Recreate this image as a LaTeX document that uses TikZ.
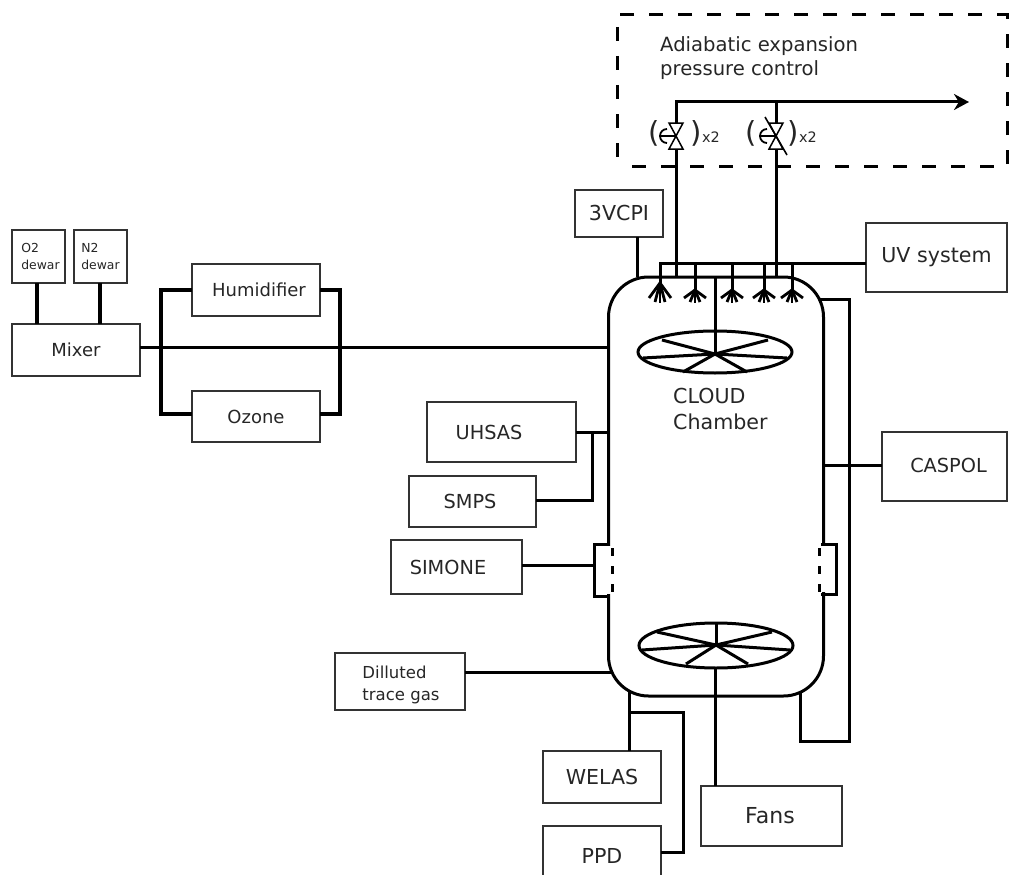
\documentclass[tikz,border=0pt]{standalone}
\usepackage{fontspec}
\setmainfont{DejaVu Sans}
\usetikzlibrary{arrows.meta}

\tikzset{
  box/.style={draw=black!80, line width=1.6pt, inner sep=0pt, outer sep=0pt, align=center, text=black!85},
  pipe/.style={line width=3pt},
  bus/.style={line width=3.5pt},
  blade/.style={line width=3pt},
  txtsm/.style={font=\fontsize{12.4}{17}\selectfont},
  txtmd/.style={font=\fontsize{16.5}{22}\selectfont},
  txtlg/.style={font=\fontsize{18}{24}\selectfont},
  txtln/.style={font=\fontsize{19.3}{24}\selectfont},
  txtxl/.style={font=\fontsize{20.6}{26}\selectfont},
  paren/.style={font=\fontsize{29}{29}\selectfont, inner sep=0pt, text=black!85},
  valve/.pic={
    \draw[line width=1.5pt] (-7,-13) -- (7,-13) -- (-7,13) -- (7,13) -- cycle;
    \draw[line width=1.8pt] (-15,0) -- (0,0);
    \draw[line width=1.8pt] (-9,-7) arc[start angle=270, end angle=90, radius=7];
  }
}

\begin{document}
\begin{tikzpicture}[x=1pt, y=-1pt]
  \useasboundingbox (0,0) rectangle (1013,875);

  % Gas supply
  \node[box, txtsm, align=left, minimum width=53pt, minimum height=53pt] (otwo) at (38.5,256.5) {\hspace*{4pt}O2\\\hspace*{4pt}dewar};
  \node[box, txtsm, align=left, minimum width=53pt, minimum height=53pt] (ntwo) at (100.5,256.5) {N2\\dewar};
  \node[box, txtlg, minimum width=128pt, minimum height=52pt] (mixer) at (76,350) {Mixer};
  \node[box, txtlg, minimum width=128pt, minimum height=52pt] (humidifier) at (256,290) {\hspace*{6pt}Humidifier};
  \node[box, txtlg, minimum width=128pt, minimum height=51pt] (ozone) at (256,416.5) {Ozone};

  % Chamber
  \node[draw, line width=3pt, rounded corners=40pt, minimum width=215pt, minimum height=419pt, outer sep=0pt] (chamber) at (716,486.5) {};
  \node[txtxl, align=left, anchor=west, inner sep=0pt, text=black!85] (chamberlabel) at (673,408.5) {CLOUD\\Chamber};
  \coordinate (tophub) at (715,354);
  \coordinate (lowhub) at (716,645);

  % Instruments
  \node[box, txtxl, minimum width=88pt, minimum height=47pt] (vcpi) at (619,213.5) {3VCPI};
  \node[box, txtxl, minimum width=141pt, minimum height=69pt] (uv) at (936.5,257.5) {\raisebox{2pt}{UV system}};
  \node[box, txtln, minimum width=149pt, minimum height=60pt] (uhsas) at (501.5,432) {UHSAS\hspace*{25pt}};
  \node[box, txtln, minimum width=127pt, minimum height=51pt] (smps) at (472.5,501.5) {SMPS\hspace*{5pt}};
  \node[box, txtln, minimum width=131pt, minimum height=54pt] (simone) at (456.5,567) {SIMONE\hspace*{17pt}};
  \node[box, txtmd, align=left, minimum width=130pt, minimum height=57pt] (trace) at (400,681.5) {\rule{0pt}{20pt}\hspace*{2pt}Dilluted\\\hspace*{2pt}trace gas};
  \node[box, txtln, minimum width=125pt, minimum height=69pt] (caspol) at (944.5,466.5) {\hspace*{8pt}\raisebox{2pt}{CASPOL}};
  \node[box, txtxl, minimum width=118pt, minimum height=52pt] (welas) at (602,777) {WELAS};
  \node[box, txtxl, minimum width=118pt, minimum height=60pt] (ppd) at (602,856) {PPD};
  \node[box, font=\fontsize{22}{26}\selectfont, minimum width=141pt, minimum height=60pt] (fans) at (771.5,816) {\raisebox{2pt}{Fans}\hspace*{3pt}};

  % Pressure control
  \node[draw, line width=3pt, dash pattern=on 14pt off 15pt, dash phase=14pt, minimum width=390pt, minimum height=151pt, outer sep=0pt] (control) at (812,90.5) {};
  \node[font=\fontsize{19.6}{24}\selectfont, align=left, anchor=west, inner sep=0pt, text=black!85] (controllabel) at (660,58) {Adiabatic expansion\\pressure control};
  \coordinate (venta) at (676,136);
  \coordinate (ventb) at (776,136);
  \coordinate (outlet) at (969,102);
  \pic at (venta) {valve};
  \pic at (ventb) {valve};
  \draw[line width=1.6pt] ([shift={(-11,-19)}]ventb) -- ([shift={(11,19)}]ventb);
  \node[paren] (parena) at (654,133) {(};
  \node[paren] (parenb) at (696,133) {)};
  \node[font=\fontsize{14.4}{16}\selectfont, inner sep=0pt, text=black!85] (timesa) at (711,137) {x2};
  \node[paren] (parenc) at (751,133) {(};
  \node[paren] (parend) at (793,133) {)};
  \node[font=\fontsize{14.4}{16}\selectfont, inner sep=0pt, text=black!85] (timesb) at (808,137) {x2};

  % Vent lines
  \draw[pipe, -{Stealth[length=15pt, width=16pt]}] ([yshift=13pt]venta) |- (outlet);
  \draw[pipe] ([yshift=13pt]ventb) -- (ventb |- outlet);
  \draw[pipe] (venta |- chamber.north) -- ([yshift=-13pt]venta);
  \draw[pipe] (ventb |- chamber.north) -- ([yshift=-13pt]ventb);

  % Gas lines
  \draw[bus] (otwo.south -| 37,0) -- (mixer.north -| 37,0);
  \draw[bus] (ntwo.south -| 100,0) -- (mixer.north -| 100,0);
  \draw[bus] (humidifier.west) -| (161,414) -- (ozone.west |- 0,414);
  \draw[bus] (humidifier.east) -| (340,414) -- (ozone.east |- 0,414);
  \draw[pipe] (mixer.east |- 0,347) -- (chamber.west |- 0,347);

  % Instrument lines
  \draw[pipe] (vcpi.south -| 637,0) -- (chamber.north -| 637,0);
  \draw[pipe] (uhsas.east |- 0,432) -- (chamber.west |- 0,432);
  \draw[pipe] (592,432) |- (smps.east |- 0,500);
  \draw[pipe] (simone.east |- 0,565) -- (594,565);
  \draw[pipe] (trace.east |- 0,672) -- ([xshift=3pt]chamber.west |- 0,672);
  \draw[pipe] (caspol.west |- 0,465) -- (chamber.east |- 0,465);
  \draw[pipe] (629,691) -- (welas.north -| 629,0);
  \draw[pipe] (629,712) -- (683,712) |- (ppd.east |- 0,852);
  \draw[pipe] (800,692) |- (849,741) -- (849,299) -- (819,299);
  \draw[pipe] (715,668) -- (fans.north -| 715,0);
  \draw[pipe] (chamber.north -| tophub) -- (tophub);

  % Spray bars
  \draw[pipe] (uv.west |- 0,263) -- (660,263) -- (660,283);
  \foreach \sx/\sy in {695/290, 732/290, 764/290, 792/290} {
    \draw[pipe] (\sx,263) -- (\sx,\sy);
  }
  \foreach \sx/\sy in {660/283, 695/290, 732/290, 764/290, 792/290} {
    \foreach \dx/\dy in {-11/298, -5/302, 0/303, 5/302, 11/298} {
      \draw[line width=2.8pt] (\sx,\sy) -- (\sx+\dx,\dy);
    }
  }

  % Fans
  \draw[blade] (715,352) ellipse[x radius=77, y radius=21];
  \foreach \bx/\by in {715/331, 662/340, 768/340, 643/358, 787/358, 683/372, 747/372} {
    \draw[blade] (tophub) -- (\bx,\by);
  }
  \draw[blade] (716,645.5) ellipse[x radius=77, y radius=22.5];
  \foreach \bx/\by in {716/623, 657/632, 772/632, 642/650, 790/650, 686/664, 748/664} {
    \draw[blade] (lowhub) -- (\bx,\by);
  }

  % Windows
  \fill[white] (604,546) rectangle (614,594);
  \fill[white] (818,546) rectangle (826,592);
  \draw[pipe] (610,544) -- (594,544) -- (594,596) -- (610,596);
  \draw[pipe, dash pattern=on 8pt off 10pt] (612,548) -- (612,593);
  \draw[pipe] (821,544) -- (836,544) -- (836,594) -- (821,594);
  \draw[pipe, dash pattern=on 8pt off 10pt] (819,548) -- (819,593);
\end{tikzpicture}
\end{document}
